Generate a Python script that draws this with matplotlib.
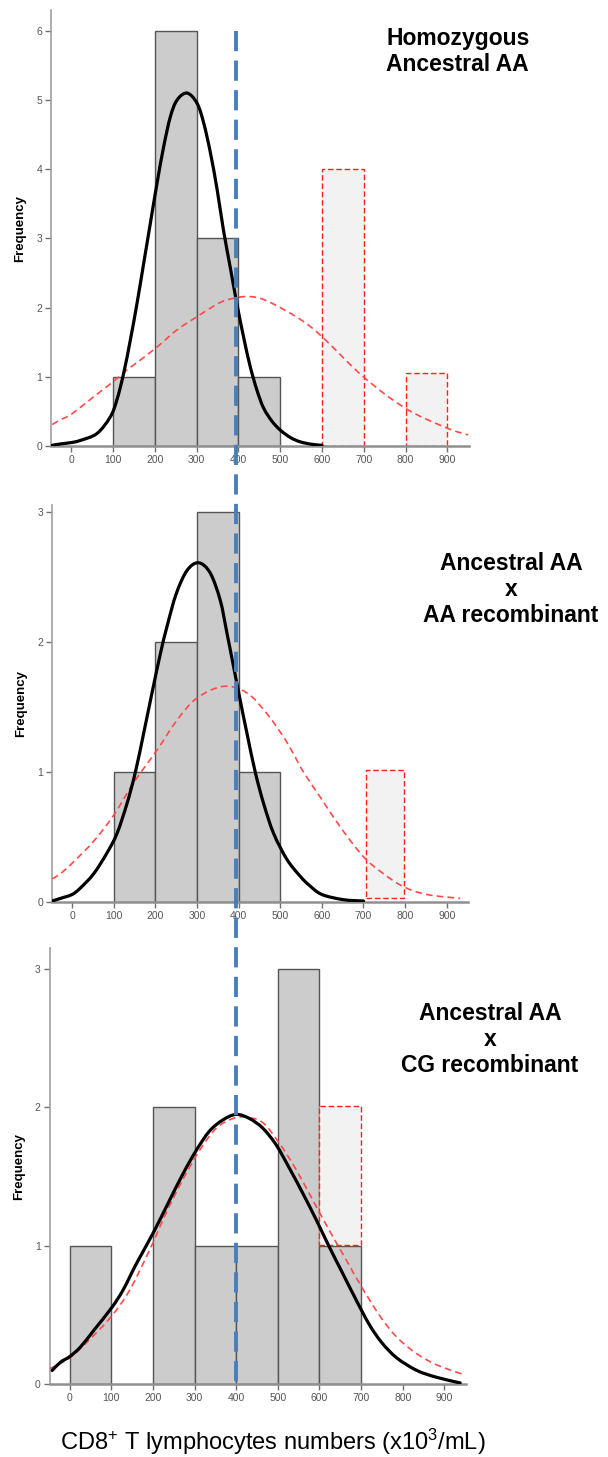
import numpy as np
import matplotlib
matplotlib.use("Agg")
import matplotlib.pyplot as plt
from matplotlib.lines import Line2D
from matplotlib.path import Path
from matplotlib.patches import PathPatch
from matplotlib.transforms import blended_transform_factory

plt.rcParams["font.family"] = ["Liberation Sans", "DejaVu Sans"]
plt.rcParams["mathtext.default"] = "regular"

W, H = 608, 1457

# ---- data ----
bin_width = 100
xticks = [0, 100, 200, 300, 400, 500, 600, 700, 800, 900]
threshold = 395

# panel 1: homozygous ancestral AA
p1_bins = [100, 200, 300, 400]
p1_counts = [1, 6, 3, 1]
p1_extra_bins = [600, 800]
p1_extra_counts = [4.0, 1.05]
p1_extra_bottom = [0, 0]
p1_fit_x = [-46, -26, 0, 21, 61, 93, 109, 125, 141, 157, 173, 189, 205, 221,
            237, 253, 277, 301, 317, 333, 349, 364, 380, 396, 412, 428, 444,
            460, 480, 500, 525, 548, 575, 600]
p1_fit_y = [0.01, 0.03, 0.05, 0.08, 0.18, 0.42, 0.67, 1.05, 1.53, 2.06, 2.64,
            3.22, 3.8, 4.33, 4.76, 5.0, 5.1, 4.95, 4.66, 4.23, 3.7, 3.12, 2.59,
            2.06, 1.58, 1.15, 0.81, 0.55, 0.36, 0.23, 0.12, 0.06, 0.025, 0.01]
p1_all_x = [-46, -26, 0, 53, 100, 133, 149, 205, 251, 301, 346, 372, 420,
            467, 548, 600, 699, 801, 899, 950]
p1_all_y = [0.31, 0.38, 0.46, 0.71, 0.93, 1.1, 1.17, 1.43, 1.67, 1.87, 2.04,
            2.11, 2.16, 2.1, 1.83, 1.58, 1.0, 0.54, 0.26, 0.16]

# panel 2: ancestral AA x AA recombinant
p2_bins = [100, 200, 300, 400]
p2_counts = [1, 2, 3, 1]
p2_extra_bins = [705]
p2_extra_counts = [0.99]
p2_extra_bottom = [0.03]
p2_fit_x = [-48, -28, 0, 20, 52, 84, 108, 132, 152, 172, 192, 212, 228, 250,
            276, 304, 332, 356, 372, 388, 404, 420, 440, 460, 484, 516, 548,
            570, 600, 652, 700]
p2_fit_y = [0.01, 0.03, 0.06, 0.11, 0.22, 0.38, 0.53, 0.76, 1.0, 1.3, 1.61,
            1.91, 2.12, 2.37, 2.55, 2.61, 2.53, 2.32, 2.07, 1.81, 1.55, 1.3,
            1.0, 0.76, 0.53, 0.33, 0.2, 0.13, 0.06, 0.02, 0.01]
p2_all_x = [-48, -28, 0, 52, 100, 148, 204, 252, 300, 364, 420, 468, 508,
            532, 556, 600, 644, 700, 748, 796, 852, 932]
p2_all_y = [0.18, 0.22, 0.3, 0.47, 0.67, 0.92, 1.17, 1.4, 1.57, 1.66, 1.61,
            1.45, 1.27, 1.14, 1.0, 0.79, 0.58, 0.35, 0.22, 0.12, 0.06, 0.03]

# panel 3: ancestral AA x CG recombinant
p3_bins = [0, 200, 300, 400, 500, 600]
p3_counts = [1, 2, 1, 1, 3, 1]
p3_extra_bins = [600]
p3_extra_counts = [1.0]
p3_extra_bottom = [1.01]
p3_fit_x = [-42, -22, 0, 26, 58, 100, 128, 160, 200, 240, 272, 304, 336, 368,
            400, 432, 464, 496, 528, 560, 592, 624, 656, 688, 720, 750, 786,
            834, 882, 938]
p3_fit_y = [0.1, 0.16, 0.2, 0.27, 0.39, 0.55, 0.68, 0.87, 1.09, 1.33, 1.52,
            1.69, 1.83, 1.91, 1.95, 1.92, 1.85, 1.73, 1.56, 1.38, 1.19, 0.99,
            0.8, 0.61, 0.43, 0.3, 0.19, 0.1, 0.05, 0.01]
p3_all_x = [-50, 0, 50, 100, 144, 192, 232, 272, 312, 352, 392, 424, 464, 504,
            544, 584, 624, 664, 700, 746, 786, 834, 882, 946]
p3_all_y = [0.11, 0.19, 0.33, 0.49, 0.68, 0.97, 1.24, 1.48, 1.69, 1.85, 1.92,
            1.93, 1.89, 1.74, 1.55, 1.33, 1.11, 0.9, 0.71, 0.49, 0.34, 0.22,
            0.14, 0.07]

titles = ["Homozygous\nAncestral AA",
          "Ancestral AA\nx\nAA recombinant",
          "Ancestral AA\nx\nCG recombinant"]
xlabel = "CD8$^{+}$ T lymphocytes numbers (x10$^{3}$/mL)"


def px_box(left, top, width, bottom):
    """Axes rectangle from pixel coordinates (origin top-left)."""
    return [left / W, 1 - bottom / H, width / W, (bottom - top) / H]


def smooth_curve(ax, x, y, **kw):
    """Draw a curve through the points as Bezier segments (Catmull-Rom)."""
    pts = np.column_stack([x, y]).astype(float)
    n = len(pts)
    verts, codes = [pts[0]], [Path.MOVETO]
    for i in range(n - 1):
        p0, p1 = pts[max(i - 1, 0)], pts[i]
        p2, p3 = pts[i + 1], pts[min(i + 2, n - 1)]
        verts += [p1 + (p2 - p0) / 6, p2 - (p3 - p1) / 6, p2]
        codes += [Path.CURVE4] * 3
    ax.add_patch(PathPatch(Path(verts, codes), fill=False, **kw))


def draw_panel(ax, bins, counts, ebins, ecounts, ebottom, fx, fy, ax_, ay_,
               ymax, yticks, ewidth=100):
    ax.bar(bins, counts, width=bin_width, align="edge", color="#CCCCCC",
           edgecolor="#555555", linewidth=1.0, zorder=2)
    ax.bar(ebins, ecounts, width=ewidth, bottom=ebottom, align="edge",
           color="#F2F2F2", edgecolor="#FF2020", linewidth=1.0,
           linestyle=(0, (4, 2)), zorder=2)
    smooth_curve(ax, ax_, ay_, edgecolor="#FF4A4A", lw=1.2,
                 linestyle=(0, (4, 2.5)), zorder=3)
    smooth_curve(ax, fx, fy, edgecolor="black", lw=2.3, joinstyle="round",
                 capstyle="round", zorder=4)

    ax.set_xlim(-48, 952)
    ax.set_ylim(0, ymax)
    ax.set_xticks(xticks)
    ax.set_yticks(yticks)
    for s in ("top", "right"):
        ax.spines[s].set_visible(False)
    ax.spines["left"].set_color("#A0A0A0")
    ax.spines["left"].set_linewidth(1.2)
    ax.spines["bottom"].set_color("#909090")
    ax.spines["bottom"].set_linewidth(1.8)
    ax.tick_params(direction="out", length=4, width=1, colors="#707070",
                   labelcolor="#555555", labelsize=7.5, pad=2.5)
    ax.text(-0.074, 0.5, "Frequency", transform=ax.transAxes, rotation=90,
            ha="center", va="center", fontsize=9.5, fontweight="bold")


fig = plt.figure(figsize=(W / 100, H / 100), dpi=100)

ax1 = fig.add_axes(px_box(51.4, 10, 417.6, 446))
draw_panel(ax1, p1_bins, p1_counts, p1_extra_bins, p1_extra_counts,
           p1_extra_bottom, p1_fit_x, p1_fit_y, p1_all_x, p1_all_y,
           6.3, range(7))

ax2 = fig.add_axes(px_box(52.1, 505.5, 416.3, 902.3))
draw_panel(ax2, p2_bins, p2_counts, p2_extra_bins, p2_extra_counts,
           p2_extra_bottom, p2_fit_x, p2_fit_y, p2_all_x, p2_all_y,
           3.05, range(4), ewidth=92)

ax3 = fig.add_axes(px_box(49.7, 948.3, 416.3, 1384.3))
draw_panel(ax3, p3_bins, p3_counts, p3_extra_bins, p3_extra_counts,
           p3_extra_bottom, p3_fit_x, p3_fit_y, p3_all_x, p3_all_y,
           3.15, range(4))

# threshold line running through all three panels
trans = blended_transform_factory(ax1.transData, fig.transFigure)
fig.add_artist(Line2D([threshold, threshold], [1 - 31 / H, 1 - 1384 / H],
                      transform=trans, color="#4A7EBB", lw=2.8,
                      linestyle=(0, (5.2, 2.4)), zorder=10))

title_pos = [(457.7, 51.7), (511, 589.2), (490, 1039.2)]
for t, (x, y) in zip(titles, title_pos):
    fig.text(x / W, 1 - y / H, t, ha="center", va="center", ma="center",
             fontsize=16.5, fontweight="bold", linespacing=1.17)

fig.text(273 / W, 1 - 1441.7 / H, xlabel, ha="center", va="center",
         fontsize=17)

fig.savefig("out.png", dpi=100)
